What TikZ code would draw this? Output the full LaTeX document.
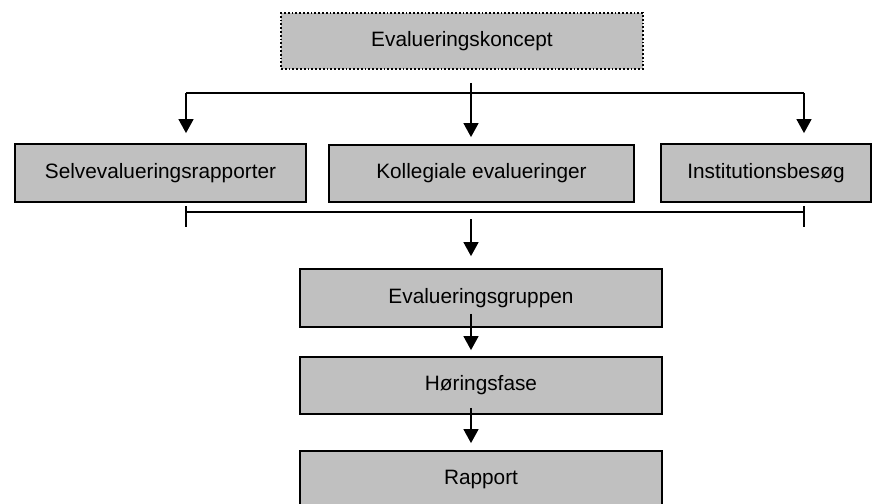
\documentclass[tikz,border=0pt]{standalone}
\usepackage{fontspec}
\setmainfont{Liberation Sans}
\usetikzlibrary{arrows.meta}
\begin{document}
\begin{tikzpicture}[x=1pt,y=-1pt,
  box/.style={draw,line width=1.8pt,fill=boxgray,inner sep=0pt,minimum height=57pt,
    font=\fontsize{20.8}{25}\selectfont},
  conn/.style={line width=1.4pt},
  arr/.style={conn,-{Triangle[width=15pt,length=14pt]}}]
\definecolor{boxgray}{HTML}{C0C0C0}
\useasboundingbox (0,0) rectangle (872,503);

\node[box,dotted,minimum width=362pt,minimum height=56pt] (koncept) at (462,41) {Evalueringskoncept};
\node[box,minimum width=291pt,minimum height=58pt] (selv) at (160.5,173) {Selvevalueringsrapporter};
\node[box,minimum width=305pt] (koll) at (481.5,173.5) {Kollegiale evalueringer};
\node[box,minimum width=210pt,minimum height=58pt] (besoeg) at (766,173) {Institutionsbesøg};
\node[box,minimum width=362pt,minimum height=58pt] (gruppe) at (481,298) {Evalueringsgruppen};
\node[box,minimum width=362pt] (hoering) at (481,385.5) {Høringsfase};
\node[box,minimum width=362pt,minimum height=56pt] (rapport) at (481,479) {Rapport};

\coordinate (forkL) at (186,93);
\coordinate (fork) at (471,93);
\coordinate (forkR) at (804,93);
\coordinate (samlL) at (186,212);
\coordinate (samlR) at (804,212);

\draw[conn] (forkL) -- (forkR);
\draw[arr,shorten >=10pt] (forkL) -- (forkL |- selv.north);
\draw[arr,shorten >=7pt] ([yshift=-13pt]koncept.south -| fork) -- (fork |- koll.north);
\draw[arr,shorten >=10pt] (forkR) -- (forkR |- besoeg.north);

\draw[conn] (samlL) -- (samlR);
\draw[conn] ([yshift=6pt]samlL) -- ([yshift=-15pt]samlL);
\draw[conn] ([yshift=6pt]samlR) -- ([yshift=-15pt]samlR);
\draw[arr,shorten >=12pt] ([yshift=-7pt]samlL -| fork) -- (fork |- gruppe.north);

\draw[arr,shorten >=6pt] ([yshift=14pt]gruppe.south -| fork) -- (fork |- hoering.north);
\draw[arr,shorten >=7pt] ([yshift=7pt]hoering.south -| fork) -- (fork |- rapport.north);
\end{tikzpicture}
\end{document}
